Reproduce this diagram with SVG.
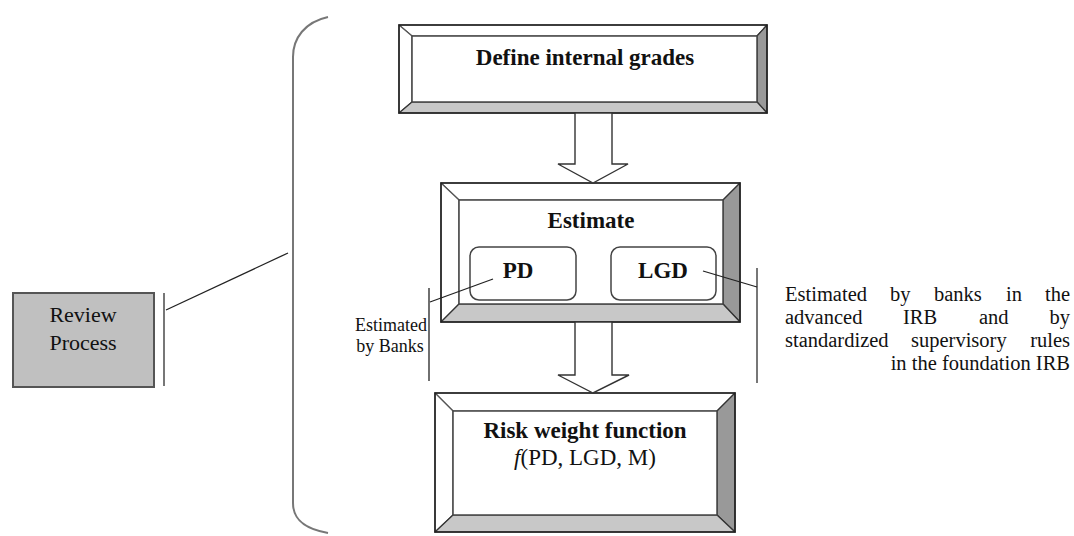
<svg xmlns="http://www.w3.org/2000/svg" width="1074" height="536" viewBox="0 0 1074 536">
<style>
.t{font-family:"Liberation Serif","Times New Roman",serif;fill:#111}
.b{font-weight:bold}
.lf{fill:#fff;stroke:#555;stroke-width:1.2;stroke-linejoin:round}
.rf{fill:#999;stroke:#333;stroke-width:1.2;stroke-linejoin:round}
.bf{fill:#c8c8c8;stroke:#333;stroke-width:1.2;stroke-linejoin:round}
.in{fill:#fff;stroke:#444;stroke-width:1.5}
.out{fill:none;stroke:#222;stroke-width:1.6}
.arr{fill:#fff;stroke:#333;stroke-width:1.4;stroke-linejoin:miter}
.ln{fill:none;stroke:#222;stroke-width:1.3}
.gl{fill:none;stroke:#777;stroke-width:2}
.rr{fill:#fff;stroke:#444;stroke-width:1.5}
</style>
<rect width="1074" height="536" fill="#fff"/>

<g id="define-grades">
  <polygon class="lf" points="399,25 767,25 757,36 412,36"/>
  <polygon class="lf" points="399,25 412,36 412,102 399,113"/>
  <polygon class="rf" points="767,25 767,113 757,102 757,36"/>
  <polygon class="bf" points="399,113 412,102 757,102 767,113"/>
  <rect class="in" x="412" y="36" width="345" height="66"/>
  <rect class="out" x="399" y="25" width="368" height="88"/>
  <text class="t b" x="585" y="65" font-size="23" text-anchor="middle">Define internal grades</text>
</g>

<g id="estimate">
  <polygon class="lf" points="441,183 740,183 723,200 459,200"/>
  <polygon class="lf" points="441,183 459,200 459,304 441,322"/>
  <polygon class="rf" points="740,183 740,322 723,304 723,200"/>
  <polygon class="bf" points="441,322 459,304 723,304 740,322"/>
  <rect class="in" x="459" y="200" width="264" height="104"/>
  <rect class="out" x="441" y="183" width="299" height="139"/>
  <text class="t b" x="591" y="228" font-size="23" text-anchor="middle">Estimate</text>
</g>

<g id="pd">
  <rect class="rr" x="470" y="247" width="106" height="53" rx="9"/>
  <text class="t b" x="518" y="278" font-size="23" text-anchor="middle">PD</text>
</g>

<g id="lgd">
  <rect class="rr" x="611" y="247" width="105" height="53" rx="9"/>
  <text class="t b" x="663" y="278" font-size="23" text-anchor="middle">LGD</text>
</g>

<g id="risk-weight">
  <polygon class="lf" points="435,393 735,393 717,411 453,411"/>
  <polygon class="lf" points="435,393 453,411 453,515 435,532"/>
  <polygon class="rf" points="735,393 735,532 717,515 717,411"/>
  <polygon class="bf" points="435,532 453,515 717,515 735,532"/>
  <rect class="in" x="453" y="411" width="264" height="104"/>
  <rect class="out" x="435" y="393" width="300" height="139"/>
  <text class="t b" x="585" y="438" font-size="23" text-anchor="middle">Risk weight function</text>
  <text class="t" x="585" y="465" font-size="23" text-anchor="middle"><tspan font-style="italic">f</tspan>(PD, LGD, M)</text>
</g>

<g id="review-process">
  <rect x="13" y="293" width="141" height="94" fill="#c0c0c0" stroke="#555" stroke-width="2"/>
  <text class="t" x="83" y="322" font-size="22" text-anchor="middle">Review</text>
  <text class="t" x="83" y="350" font-size="22" text-anchor="middle">Process</text>
</g>

<g id="estimated-by-banks">
  <text class="t" x="391" y="331" font-size="18" text-anchor="middle">Estimated</text>
  <text class="t" x="390" y="352" font-size="18" text-anchor="middle">by Banks</text>
</g>

<g id="lgd-note">
  <text class="t" y="301" font-size="20.5"><tspan x="785">Estimated</tspan><tspan x="890">by</tspan><tspan x="934">banks</tspan><tspan x="1006">in</tspan><tspan x="1070" text-anchor="end">the</tspan></text>
  <text class="t" y="324" font-size="20.5"><tspan x="785">advanced</tspan><tspan x="903">IRB</tspan><tspan x="979">and</tspan><tspan x="1070" text-anchor="end">by</tspan></text>
  <text class="t" y="347" font-size="20.5"><tspan x="785">standardized</tspan><tspan x="911">supervisory</tspan><tspan x="1070" text-anchor="end">rules</tspan></text>
  <text class="t" y="370" font-size="20.5" x="1070" text-anchor="end">in the foundation IRB</text>
</g>

<g id="connectors">
  <polygon class="arr" points="575,113 612,113 612,164 628,164 593,183 558,164 575,164"/>
  <polygon class="arr" points="575,322 612,322 612,375 629,375 593,393 558,375 575,375"/>
  <path class="gl" d="M328,17 C305,22 293,38 293,57 L293,503 C293,520 305,529 328,533" stroke="#555" stroke-width="1.6"/>
  <line class="gl" x1="164" y1="293" x2="164" y2="386"/>
  <line class="ln" x1="166" y1="310" x2="288" y2="253"/>
  <line class="ln" x1="429" y1="288" x2="429" y2="381" stroke-width="1.8"/>
  <line class="ln" x1="430" y1="302" x2="493" y2="279"/>
  <line class="gl" x1="757" y1="268" x2="757" y2="383" stroke-width="1.6"/>
  <line class="ln" x1="703" y1="271" x2="757" y2="287"/>
</g>
</svg>
